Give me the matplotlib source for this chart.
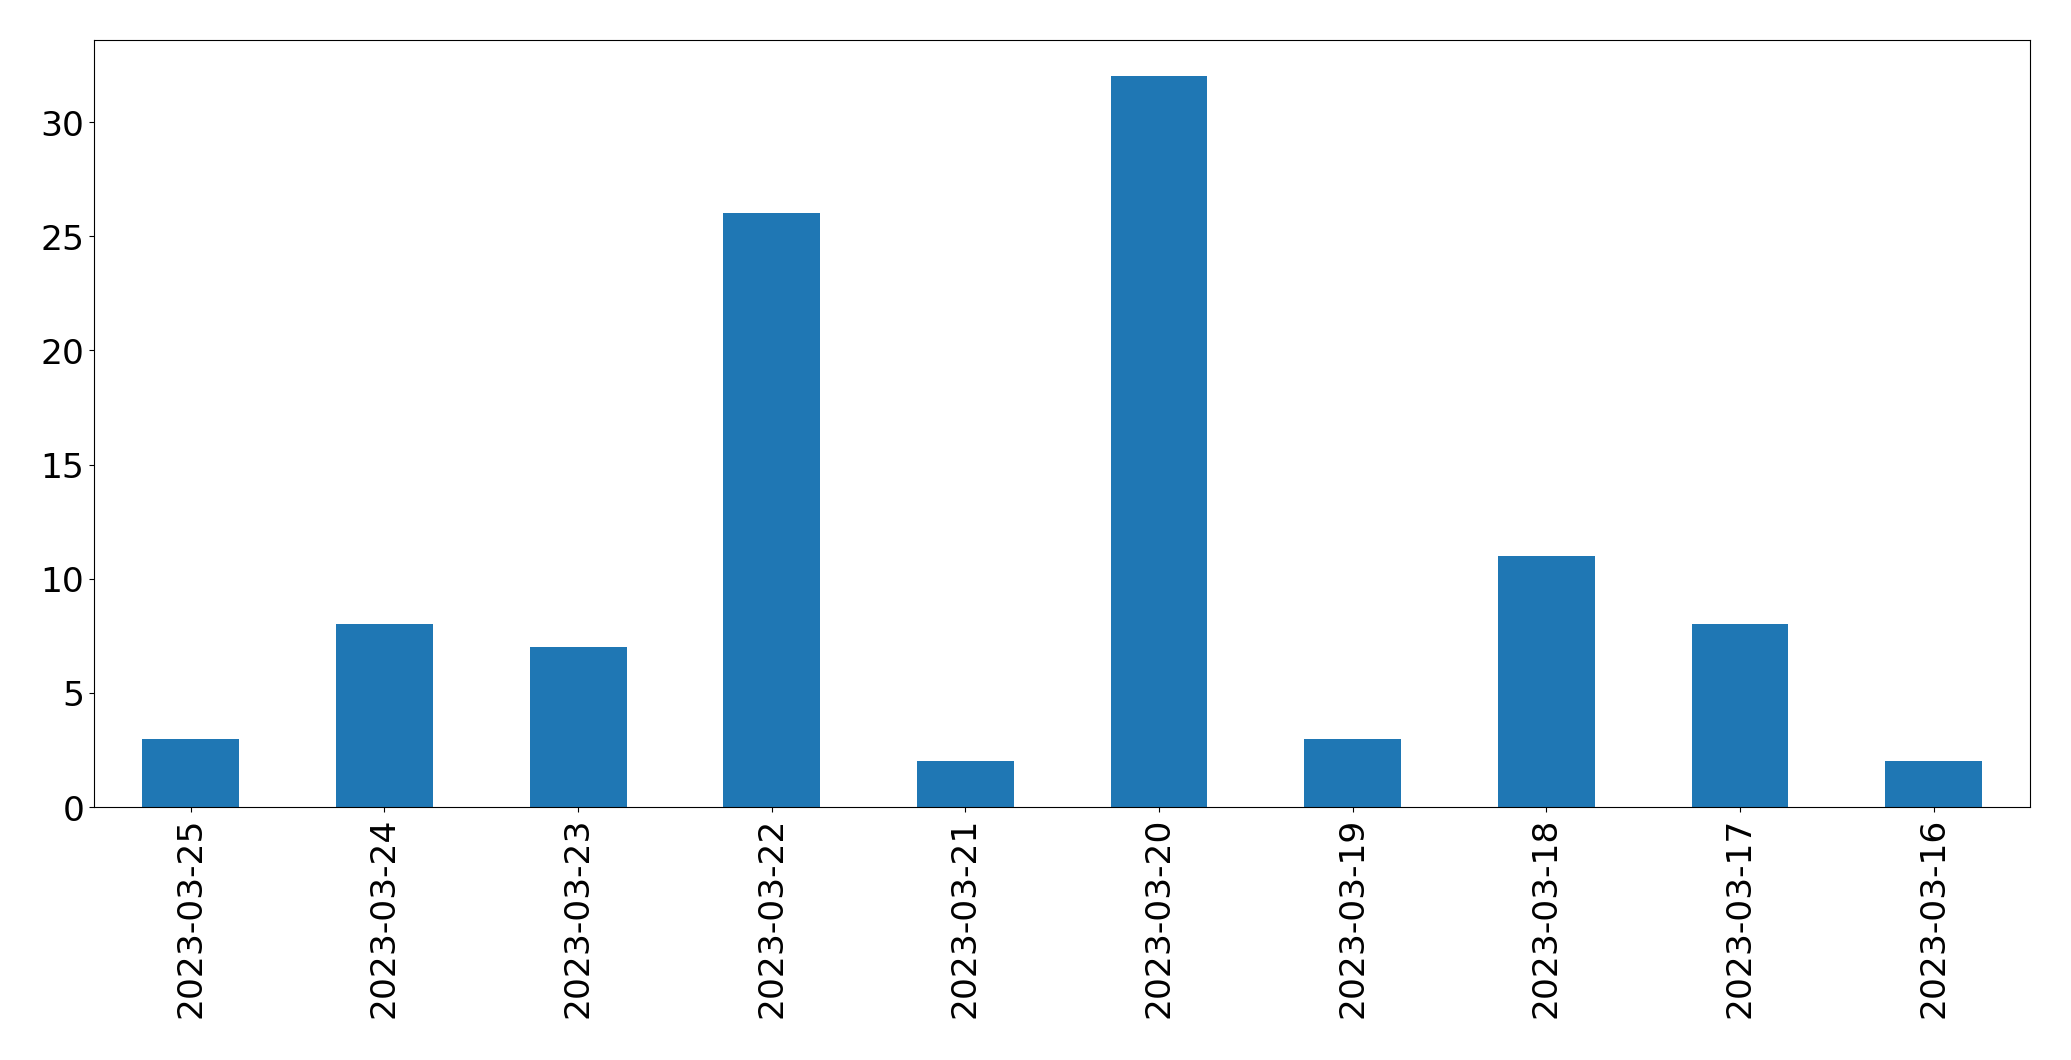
import matplotlib
matplotlib.use("Agg")
import matplotlib.pyplot as plt

dates = ["2023-03-25", "2023-03-24", "2023-03-23", "2023-03-22", "2023-03-21",
         "2023-03-20", "2023-03-19", "2023-03-18", "2023-03-17", "2023-03-16"]
counts = [3, 8, 7, 26, 2, 32, 3, 11, 8, 2]

fig = plt.figure(figsize=(20.71, 10.605), dpi=100)
ax = fig.add_axes([0.0454, 0.2385, 0.9350, 0.7235])
x = list(range(len(dates)))
ax.bar(x, counts, width=0.5, color="#1f77b4")
ax.set_xlim(-0.5, len(dates) - 0.5)
ax.set_ylim(0, max(counts) * 1.05)
ax.set_xticks(x)
ax.set_xticklabels(dates, rotation=90)
ax.tick_params(labelsize=24.8)
fig.savefig("out.png", dpi=100)
